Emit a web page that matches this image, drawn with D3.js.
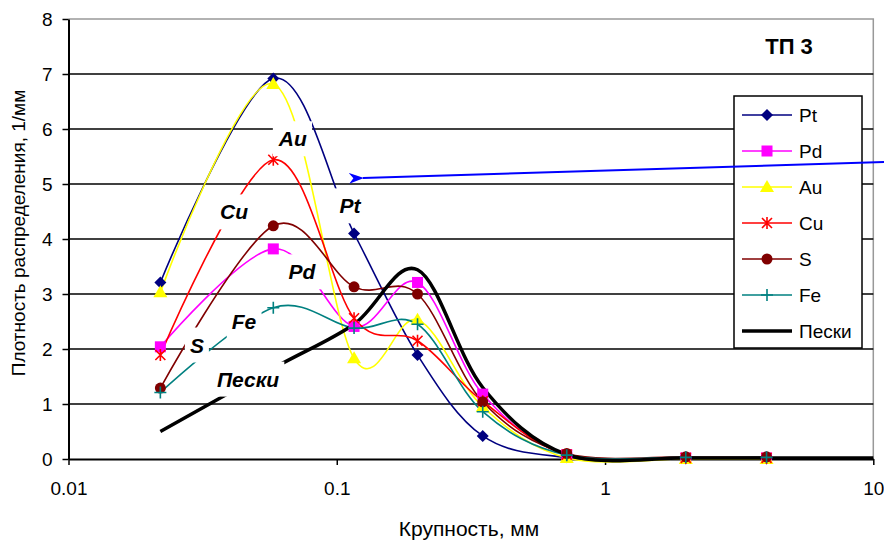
<!DOCTYPE html>
<html>
<head>
<meta charset="utf-8">
<script src="https://cdn.jsdelivr.net/npm/d3@7"></script>
<style>
  html, body { margin: 0; padding: 0; background: #fff; }
  svg { display: block; font-family: "Liberation Sans", Arial, sans-serif; }
</style>
</head>
<body>
<div id="chart"></div>
<script>
// ------- Data -------

const sizes = [0.022, 0.058, 0.116, 0.2, 0.35, 0.72, 2, 4];

const ptValues = [3.21, 6.92, 4.1, 1.89, 0.42, 0.03, 0.01, 0.01];
const pdValues = [2.04, 3.82, 2.41, 3.21, 1.18, 0.08, 0.02, 0.02];
const auValues = [3.03, 6.82, 1.83, 2.53, 0.95, 0.02, 0.0, 0.0];
const cuValues = [1.89, 5.44, 2.56, 2.15, 1.05, 0.08, 0.02, 0.02];
const sValues = [1.29, 4.24, 3.13, 3.0, 1.04, 0.1, 0.04, 0.04];
const feValues = [1.21, 2.75, 2.38, 2.45, 0.86, 0.07, 0.03, 0.03];

const sandSizes = [0.022, 0.058, 0.116, 0.2, 0.35, 0.72, 2, 4, 10];
const sandValues = [0.5, 1.65, 2.45, 3.44, 1.3, 0.08, 0.02, 0.02, 0.02];

const seriesNames = ["Pt", "Pd", "Au", "Cu", "S", "Fe", "Пески"];
const seriesColors = ["#000080", "#ff00ff", "#ffff00", "#ff0000", "#800000", "#008080", "#000000"];
const seriesMarkers = ["diamond", "square", "triangle", "asterisk", "circle", "plus", "none"];

const xTicks = [0.01, 0.1, 1, 10];
const yTicks = [0, 1, 2, 3, 4, 5, 6, 7, 8];

// in-plot labels: text, size, density
const labelTexts = ["Au", "Cu", "Pt", "Pd", "Fe", "S", "Пески"];
const labelX = [0.0686, 0.0414, 0.112, 0.0742, 0.0451, 0.0301, 0.0467];
const labelY = [5.82, 4.49, 4.6, 3.4, 2.49, 2.07, 1.45];

const series = [
  { values: ptValues, xs: sizes },
  { values: pdValues, xs: sizes },
  { values: auValues, xs: sizes },
  { values: cuValues, xs: sizes },
  { values: sValues, xs: sizes },
  { values: feValues, xs: sizes },
  { values: sandValues, xs: sandSizes },
].map((s, i) => ({
  name: seriesNames[i],
  color: seriesColors[i],
  marker: seriesMarkers[i],
  points: s.xs.map((x, j) => ({ x, y: s.values[j] })),
}));

// ------- SVG setup -------

const width = 884;
const height = 549;
const plot = { left: 68.5, right: 873.3, top: 19, bottom: 459 };

const svg = d3
  .select("#chart")
  .append("svg")
  .attr("width", width)
  .attr("height", height);

const x = d3.scaleLog().domain([0.01, 10]).range([plot.left, plot.right]);
const y = d3.scaleLinear().domain([0, 8]).range([plot.bottom, plot.top]);

// plot border (grey, top & right)
svg
  .append("path")
  .attr("d", `M${plot.left},${plot.top}H${plot.right}V${plot.bottom}`)
  .attr("fill", "none")
  .attr("stroke", "#999")
  .attr("stroke-width", 1.5);

// gridlines
svg
  .append("g")
  .selectAll("line")
  .data(yTicks.filter((d) => d > 0 && d < 8))
  .join("line")
  .attr("x1", plot.left)
  .attr("x2", plot.right)
  .attr("y1", (d) => y(d))
  .attr("y2", (d) => y(d))
  .attr("stroke", "#000")
  .attr("stroke-width", 1.5);

// axes
const xAxis = d3
  .axisBottom(x)
  .tickValues(xTicks)
  .tickFormat((d) => String(d))
  .tickSize(6)
  .tickSizeOuter(0)
  .tickPadding(17);

const xAxisG = svg
  .append("g")
  .attr("transform", `translate(0,${plot.bottom})`)
  .call(xAxis);

const yAxis = d3
  .axisLeft(y)
  .tickValues(yTicks)
  .tickSize(6)
  .tickSizeOuter(0)
  .tickPadding(10);

const yAxisG = svg
  .append("g")
  .attr("transform", `translate(${plot.left},0)`)
  .call(yAxis);

[xAxisG, yAxisG].forEach((g) => {
  g.select(".domain").attr("stroke", "#000").attr("stroke-width", 2);
  g.selectAll(".tick line").attr("stroke", "#000").attr("stroke-width", 1.5);
  g.selectAll(".tick text")
    .attr("fill", "#000")
    .style("font-size", "19px")
    .style("font-family", '"Liberation Sans", Arial, sans-serif');
});

svg
  .append("text")
  .attr("x", 469)
  .attr("y", 536)
  .attr("text-anchor", "middle")
  .style("font-size", "21px")
  .text("Крупность, мм");

svg
  .append("text")
  .attr("transform", "translate(25,233) rotate(-90)")
  .attr("text-anchor", "middle")
  .style("font-size", "19px")
  .text("Плотность распределения, 1/мм");

// ------- Lines -------

const line = d3
  .line()
  .x((d) => x(d.x))
  .y((d) => y(d.y))
  .curve(d3.curveCardinal.tension(0));

svg
  .append("g")
  .selectAll("path")
  .data(series)
  .join("path")
  .attr("d", (d) => line(d.points))
  .attr("fill", "none")
  .attr("stroke", (d) => d.color)
  .attr("stroke-width", (d) => (d.marker === "none" ? 3.5 : 1.6));

// ------- Markers -------

function drawMarker(sel, type, color) {
  if (type === "diamond") {
    sel.append("path").attr("d", "M0,-6L6,0L0,6L-6,0Z").attr("fill", color);
  } else if (type === "square") {
    sel.append("rect").attr("x", -5.5).attr("y", -5.5).attr("width", 11).attr("height", 11).attr("fill", color);
  } else if (type === "triangle") {
    sel.append("path").attr("d", "M0,-7L7,5L-7,5Z").attr("fill", color);
  } else if (type === "circle") {
    sel.append("circle").attr("r", 5.5).attr("fill", color);
  } else if (type === "asterisk") {
    sel.append("path")
      .attr("d", "M-5,-5L5,5M-5,5L5,-5M0,-6V6")
      .attr("stroke", color)
      .attr("stroke-width", 1.6);
  } else if (type === "plus") {
    sel.append("path")
      .attr("d", "M-6,0H6M0,-6V6")
      .attr("stroke", color)
      .attr("stroke-width", 1.6);
  }
}

series.forEach((s) => {
  if (s.marker === "none") return;
  const g = svg.append("g");
  s.points.forEach((p) => {
    const m = g.append("g").attr("transform", `translate(${x(p.x)},${y(p.y)})`);
    drawMarker(m, s.marker, s.color);
  });
});

// ------- In-plot labels with white boxes -------

const labelsG = svg.append("g");
labelTexts.forEach((t, i) => {
  const g = labelsG
    .append("g")
    .attr("transform", `translate(${x(labelX[i])},${y(labelY[i])})`);
  const rect = g.append("rect").attr("fill", "#fff");
  const text = g
    .append("text")
    .attr("text-anchor", "middle")
    .attr("dy", "0.35em")
    .style("font-size", "21px")
    .style("font-weight", "bold")
    .style("font-style", "italic")
    .text(t);
  const b = text.node().getBBox();
  rect
    .attr("x", b.x - 5)
    .attr("y", b.y - 6)
    .attr("width", b.width + 10)
    .attr("height", b.height + 12);
});

// ------- Title -------

svg
  .append("text")
  .attr("x", 789)
  .attr("y", 54)
  .attr("text-anchor", "middle")
  .style("font-size", "22px")
  .style("font-weight", "bold")
  .text("ТП 3");

// ------- Legend -------

const legend = svg.append("g").attr("transform", "translate(734,96)");
legend
  .append("rect")
  .attr("width", 128)
  .attr("height", 252)
  .attr("fill", "#fff")
  .attr("stroke", "#000")
  .attr("stroke-width", 1.5);

series.forEach((s, i) => {
  const row = legend.append("g").attr("transform", `translate(0,${19 + i * 36})`);
  row
    .append("line")
    .attr("x1", 8)
    .attr("x2", 58)
    .attr("stroke", s.color)
    .attr("stroke-width", s.marker === "none" ? 3.5 : 1.6);
  const m = row.append("g").attr("transform", "translate(33,0)");
  drawMarker(m, s.marker, s.color);
  row
    .append("text")
    .attr("x", 65)
    .attr("dy", "0.35em")
    .style("font-size", "19px")
    .text(s.name);
});

// ------- Arrow -------

svg
  .append("defs")
  .append("marker")
  .attr("id", "arrowhead")
  .attr("viewBox", "0 0 14 10")
  .attr("refX", 1)
  .attr("refY", 5)
  .attr("markerUnits", "userSpaceOnUse")
  .attr("markerWidth", 15)
  .attr("markerHeight", 11)
  .attr("orient", "auto-start-reverse")
  .append("path")
  .attr("d", "M0,5L14,0L10,5L14,10Z")
  .attr("fill", "#0000ff");

svg
  .append("line")
  .attr("x1", 884)
  .attr("y1", 162)
  .attr("x2", 363)
  .attr("y2", 178)
  .attr("stroke", "#0000ff")
  .attr("stroke-width", 2)
  .attr("marker-end", "url(#arrowhead)");
</script>
</body>
</html>
